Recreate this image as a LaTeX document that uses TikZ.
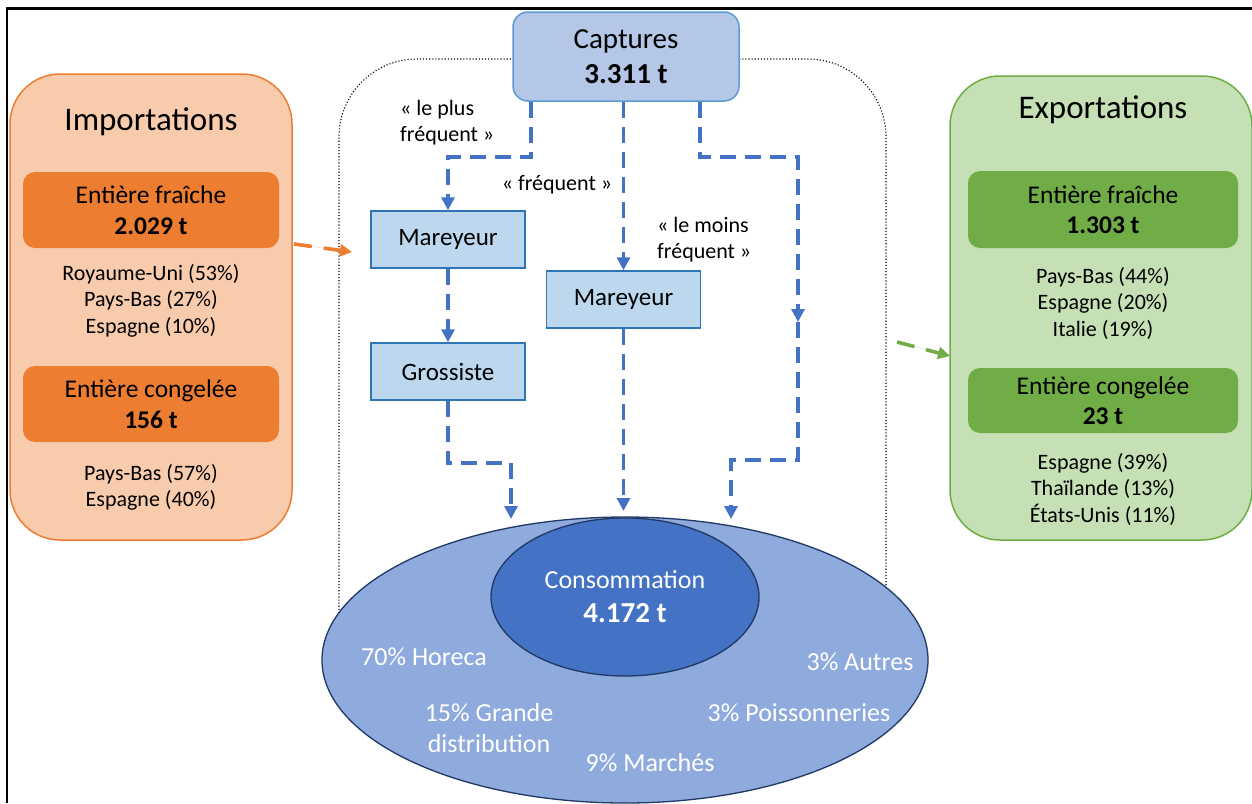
\documentclass[tikz,border=0pt]{standalone}
\usepackage{fontspec}
\setmainfont{Carlito}
\usetikzlibrary{arrows.meta,shapes.geometric}
\definecolor{orL}{HTML}{F8CBAD}
\definecolor{orD}{HTML}{ED7D31}
\definecolor{grL}{HTML}{C5E0B4}
\definecolor{grD}{HTML}{70AD47}
\definecolor{capF}{HTML}{B4C7E7}
\definecolor{capB}{HTML}{5B9BD5}
\definecolor{marF}{HTML}{BDD7EE}
\definecolor{marB}{HTML}{2E75B6}
\definecolor{flowC}{HTML}{4472C4}
\definecolor{ellO}{HTML}{8FAADC}
\definecolor{ellB}{HTML}{1F3864}
\begin{document}
\begin{tikzpicture}[x=1pt,y=-1pt,
  bigbox/.style={rounded corners=50pt,line width=1.5pt,inner sep=0pt},
  subbox/.style={rounded corners=12pt,inner sep=0pt,align=center,
    font=\fontsize{25.5}{30.5}\selectfont},
  ttl/.style={inner sep=0pt,font=\fontsize{33}{40}\selectfont},
  ctry/.style={inner sep=0pt,align=center,font=\fontsize{22}{26.5}\selectfont},
  lbl/.style={inner sep=0pt,align=left,font=\fontsize{22}{26}\selectfont},
  mbox/.style={draw=marB,fill=marF,line width=1.5pt,minimum width=154pt,
    minimum height=57pt,inner sep=0pt,font=\fontsize{25}{30}\selectfont},
  wlbl/.style={inner sep=0pt,align=center,text=white,font=\fontsize{26}{31}\selectfont},
  flow/.style={draw=flowC,line width=3.6pt,dash pattern=on 16pt off 9pt,
    -{Triangle[length=13pt,width=13pt]}},
  side/.style={line width=3.6pt,dash pattern=on 18pt off 12pt,
    -{Triangle[length=12pt,width=12pt]}}
]
\useasboundingbox (0,0) rectangle (1252,803);
\fill[white] (0,0) rectangle (1252,803);
% frame
\draw[line width=2.6pt] (7,803) -- (7,8.5) -- (1252,8.5);
% dotted region
\draw[dotted,line width=1.1pt,rounded corners=78pt] (339,675) -- (339,59) -- (886,59) -- (886,675);
% ellipses
\node[ellipse,draw=ellB,fill=ellO,line width=1.3pt,minimum width=606pt,minimum height=286pt,inner sep=0pt] (outer) at (625,660) {};
\node[ellipse,draw=ellB,fill=flowC,line width=1.3pt,minimum width=268pt,minimum height=158pt,inner sep=0pt,
  align=center,text=white,font=\fontsize{26}{34}\selectfont] (cons) at (625,597)
  {Consommation\\{\fontsize{29}{34}\selectfont\bfseries 4.172 t}};
\node[wlbl] (horeca) at (424,657) {70\% Horeca};
\node[wlbl] (autres) at (860,662) {3\% Autres};
\node[wlbl] (gd) at (489,728.5) {15\% Grande\\distribution};
\node[wlbl] (poiss) at (799,713) {3\% Poissonneries};
\node[wlbl] (march) at (650,763) {9\% Marchés};
% captures
\node[draw=capB,fill=capF,line width=1.5pt,rounded corners=15pt,minimum width=226pt,minimum height=89pt,
  inner sep=0pt,align=center,font=\fontsize{29}{35}\selectfont] (cap) at (626,56.5)
  {Captures\\\textbf{3.311 t}};
% boxes
\node[mbox] (mar1) at (448,239.5) {Mareyeur};
\node[mbox] (mar2) at (623.5,299.5) {Mareyeur};
\node[mbox] (gro) at (448,371.5) {Grossiste};
% labels
\node[lbl,anchor=west] (l1) at (400,123) {« le plus\\fréquent »};
\node[lbl] (l2) at (557,185) {« fréquent »};
\node[lbl,anchor=west] (l3) at (657,240) {« le moins\\fréquent »};
% coordinates
\coordinate (direct) at (798,322);
\coordinate (e1) at (511,519);
\coordinate (e2) at (623.5,511);
\coordinate (e3) at (731,519);
% flows
\draw[flow] ([xshift=-95pt]cap.south) -- ++(0,55) -| (mar1.north);
\draw[flow] (mar2.north |- cap.south) -- (mar2.north);
\draw[flow] ([xshift=74pt]cap.south) -- ++(0,55) -| (direct);
\draw[flow] (direct) -- ++(0,138) -| (e3);
\draw[flow] (mar1.south) -- (gro.north);
\draw[flow] (gro.south) -- ++(0,62) -| (e1);
\draw[flow] (mar2.south) -- (e2);
% importations
\node[bigbox,draw=orD,fill=orL,minimum width=282pt,minimum height=466pt] (imp) at (151,307) {};
\node[ttl] (impt) at (151,122) {Importations};
\node[subbox,fill=orD,minimum width=256pt,minimum height=76pt] (impf) at (151,210) {Entière fraîche\\\textbf{2.029 t}};
\node[ctry] (impfc) at (151,300.5) {Royaume-Uni (53\%)\\Pays-Bas (27\%)\\Espagne (10\%)};
\node[subbox,fill=orD,minimum width=256pt,minimum height=76pt] (impc) at (151,404) {Entière congelée\\\textbf{156 t}};
\node[ctry] (impcc) at (151,487.5) {Pays-Bas (57\%)\\Espagne (40\%)};
% exportations
\node[bigbox,draw=grD,fill=grL,minimum width=302pt,minimum height=464pt] (exp) at (1101,308) {};
\node[ttl] (expt) at (1103,110) {Exportations};
\node[subbox,fill=grD,minimum width=270pt,minimum height=77pt] (expf) at (1103,209.5) {Entière fraîche\\\textbf{1.303 t}};
\node[ctry] (expfc) at (1103,303) {Pays-Bas (44\%)\\Espagne (20\%)\\Italie (19\%)};
\node[subbox,fill=grD,minimum width=270pt,minimum height=65pt] (expc) at (1103,400.5) {Entière congelée\\\textbf{23 t}};
\node[ctry] (expcc) at (1103,489) {Espagne (39\%)\\Thaïlande (13\%)\\États-Unis (11\%)};
% side arrows
\coordinate (impout) at (294,244);
\coordinate (impin) at (352,252);
\coordinate (expout) at (897,342);
\coordinate (expin) at (950,356);
\draw[side,draw=orD,fill=orD] (impout) -- (impin);
\draw[side,draw=grD,fill=grD] (expout) -- (expin);
\end{tikzpicture}
\end{document}
